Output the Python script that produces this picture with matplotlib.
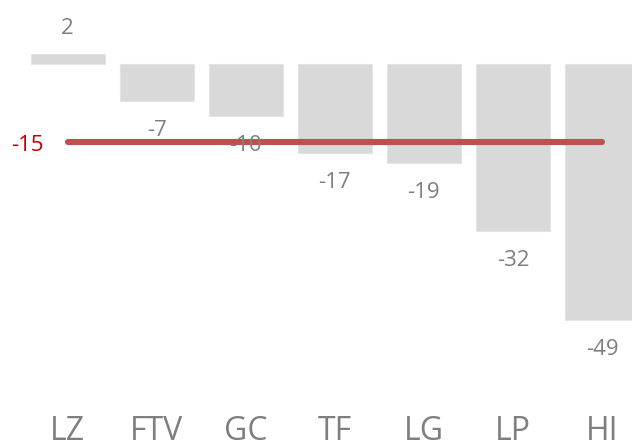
import matplotlib
matplotlib.use("Agg")
import matplotlib.pyplot as plt
from matplotlib.transforms import blended_transform_factory

categories = ["LZ", "FTV", "GC", "TF", "LG", "LP", "HI"]
values = [2, -7, -10, -17, -19, -32, -49]
average = -15

plt.rcParams['font.family'] = ['Open Sans', 'DejaVu Sans']

fig = plt.figure(figsize=(6.32, 4.43), dpi=100)
ax = fig.add_axes([0, 0, 1, 1])

x = list(range(len(categories)))
ax.bar(x, values, width=0.83, color="#D9D9D9", edgecolor="#E4E4E4", linewidth=0.8, zorder=1)

ax.plot([x[0], x[-1]], [average, average], color="#C0504D", linewidth=4.4,
        solid_capstyle="round", zorder=2)

px = 72 / 100.0
for xi, v in zip(x, values):
    if v >= 0:
        ax.annotate(str(v), (xi, v), xytext=(0, 20 * px), textcoords="offset points",
                    ha="center", va="baseline", fontsize=16, color="#7F7F7F", zorder=3)
    else:
        ax.annotate(str(v), (xi, v), xytext=(0, -35 * px), textcoords="offset points",
                    ha="center", va="baseline", fontsize=16, color="#7F7F7F", zorder=3)

ax.annotate(str(average), (x[0], average), xytext=(-24 * px, -9 * px), textcoords="offset points",
            ha="right", va="baseline", fontsize=16, color="#C00000")

trans = blended_transform_factory(ax.transData, ax.transAxes)
for xi, c in zip(x, categories):
    ax.text(xi, 3 / 443, c, transform=trans, ha="center", va="baseline",
            fontsize=23, color="#7F7F7F")

ax.set_xlim(-0.758, 6.336)
ax.set_ylim(-72.6, 12.26)
ax.axis("off")

fig.savefig("out.png", dpi=100)
